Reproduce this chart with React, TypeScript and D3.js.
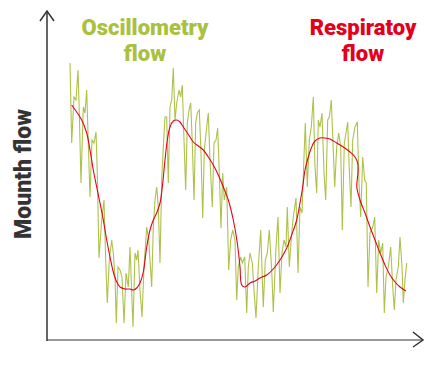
import * as d3 from "d3";

// oscillometry (noisy) flow: time vs flow
const oscTime = [
  23, 24.7, 27, 29, 31, 32.3, 34, 36.3, 38, 39.7, 41.3, 43, 45, 47, 49, 50.3, 52, 54.7, 57, 58.7,
  60.3, 62.3, 64.7, 66.3, 68, 69.3, 71, 73, 75, 77, 79, 81.3, 83, 84.7, 86, 88, 89.7, 91, 93, 95,
  97, 99.7, 101.7, 103, 104.7, 106.3, 108, 109.7, 111.3, 113, 114.7, 116.3, 118, 119.7, 121.3, 123, 124.7, 126.3, 128, 129.7,
  132, 133.7, 135.3, 137, 138.7, 140.3, 142, 143.7, 145.3, 147, 148.7, 150.3, 152.3, 154, 155.7, 157.3, 159.7, 161.3, 163, 165.3,
  167, 169, 170.7, 172.3, 174, 175.7, 177.3, 179.7, 181.7, 183.7, 185.7, 188, 189.7, 191.3, 193.7, 195.3, 197.7, 199.7, 201.3, 203,
  205.3, 207, 209, 211.3, 213.7, 216.3, 218.3, 220.3, 222.3, 224.7, 226.3, 229, 231, 233, 235, 237, 239, 240.3, 242.3, 244.7,
  246.3, 249, 251, 253, 255, 257, 258.3, 260.3, 262.3, 264.3, 266.3, 268, 269.7, 271.3, 273, 275, 277, 278.7, 280.7, 282.3,
  284.3, 286, 287.7, 289.7, 291.7, 293.7, 295.3, 297.3, 299, 300.7, 302.3, 304, 305.7, 308, 310.3, 312, 313.7, 315.7, 317.7, 319.3,
  321, 323, 325.7, 327.7, 329.7, 331.7, 333.7, 335.7, 337.3, 339, 341.3, 343.7, 345.7, 347.3, 349, 351.3, 353, 355, 356.3, 358, 359.7,
];
const oscFlow = [
  277, 197, 243, 240, 270, 227, 157, 233, 227, 250, 197, 143, 200, 197, 208, 167, 82, 120, 140, 80,
  37, 80, 100, 87, 63, 17, 73, 70, 63, 17, 67, 53, 93, 47, 13, 87, 80, 90, 50, 23,
  73, 113, 100, 80, 53, 113, 140, 153, 133, 77, 160, 193, 223, 223, 157, 233, 240, 272, 220, 237,
  250, 243, 255, 200, 150, 217, 230, 237, 197, 140, 217, 227, 230, 187, 122, 190, 213, 227, 180, 133,
  197, 200, 212, 167, 112, 167, 140, 153, 70, 100, 110, 100, 40, 73, 83, 77, 83, 27, 73, 87,
  77, 50, 22, 73, 110, 33, 80, 87, 110, 70, 28, 93, 123, 47, 87, 100, 93, 133, 73, 107,
  123, 142, 67, 133, 127, 183, 217, 153, 200, 213, 243, 173, 147, 220, 213, 227, 167, 140, 220, 223,
  240, 197, 153, 193, 207, 193, 110, 197, 207, 218, 170, 133, 200, 213, 218, 157, 123, 183, 160, 157,
  53, 107, 113, 123, 47, 100, 87, 97, 27, 63, 73, 93, 53, 30, 60, 73, 103, 73, 37, 60, 77,
];

// respiratory (smooth) flow
const respTime = [
  24.7, 29.7, 34.7, 39.7, 43, 46.3, 49.7, 53, 56.3, 59.7, 63, 66.3, 69.7, 73, 78, 83, 86.3, 89.7, 93, 96.3,
  99.7, 103, 106.3, 109.7, 113, 115.3, 118, 120.3, 123, 126.3, 129.7, 133, 136.3, 139.7, 143, 146.3, 151.3, 156.3, 161.3, 166.3,
  171.3, 176.3, 181.3, 186.3, 190.3, 193, 194.7, 198, 203, 208, 213, 219.7, 226.3, 233, 239.7, 244.7, 249.7, 253, 255.7, 258,
  261.3, 264.7, 268, 273, 278, 283, 289.7, 296.3, 303, 308, 310.7, 310.9, 309.8, 313, 318, 323, 328, 333, 338, 343, 348, 353, 359,
];
const respFlow = [
  235, 228, 220, 207, 190, 170, 153, 137, 120, 100, 83, 68, 58, 53, 51, 51, 50, 52, 57, 68,
  93, 110, 120, 127, 137, 153, 180, 200, 213, 219, 220, 218, 213, 208, 203, 198, 194, 190, 183, 175,
  165, 153, 140, 120, 97, 73, 55, 53, 57, 59, 62, 65, 71, 80, 92, 105, 120, 137, 153, 170,
  183, 193, 199, 202, 202, 201, 197, 193, 188, 183, 177, 167, 153, 140, 127, 113, 100, 87, 75, 65, 58, 53, 49,
];

const titles = [
  { lines: ["Oscillometry", "flow"], at: 145, color: "#a9c13e" },
  { lines: ["Respiratoy", "flow"], at: 363, color: "#e3001b" },
];
const yLabel = "Mounth flow";

export default function App() {
  const W = 439;
  const H = 366;
  const x = d3.scaleLinear().domain([0, 376]).range([47, 423]);
  const y = d3.scaleLinear().domain([0, 329]).range([340, 11]);

  const osc = d3
    .line<number>()
    .x((_, i) => x(oscTime[i]))
    .y((d) => y(d));
  const resp = d3
    .line<number>()
    .x((_, i) => x(respTime[i]))
    .y((d) => y(d))
    .curve(d3.curveCatmullRom.alpha(0.5));

  const [x0, x1] = x.range();
  const [y0, y1] = y.range();
  const font = "Roboto, 'DejaVu Sans', sans-serif";

  return (
    <svg width={W} height={H} style={{ position: "absolute", left: 0, top: 0, background: "#fff" }}>
      {/* axes */}
      <line x1={x0} y1={y0} x2={x1} y2={y0} stroke="#999" strokeWidth={2} />
      <line x1={x0} y1={y0 + 1} x2={x0} y2={y1} stroke="#333" strokeWidth={1.5} />
      <path d={`M${x0 - 7},${y1 + 10}L${x0},${y1}L${x0 + 7},${y1 + 10}`} fill="none" stroke="#333" strokeWidth={1.5} />
      <path d={`M${x1 - 10},${y0 - 8}L${x1},${y0}L${x1 - 10},${y0 + 7}`} fill="none" stroke="#333" strokeWidth={1.5} />

      {/* series */}
      <path d={osc(oscFlow) ?? ""} fill="none" stroke="#adc24a" strokeWidth={1.1} />
      <path d={resp(respFlow) ?? ""} fill="none" stroke="#e3001b" strokeWidth={1.1} />

      {/* titles */}
      {titles.map((t) => (
        <text key={t.lines[0]} x={t.at} textAnchor="middle" fill={t.color} fontFamily={font} fontWeight={900} fontSize={22}>
          <tspan x={t.at} y={35}>{t.lines[0]}</tspan>
          <tspan x={t.at} y={61}>{t.lines[1]}</tspan>
        </text>
      ))}

      <text
        transform={`translate(31,174) rotate(-90)`}
        textAnchor="middle"
        fill="#333"
        fontFamily={font}
        fontWeight={900}
        fontSize={23}
      >
        {yLabel}
      </text>
    </svg>
  );
}
